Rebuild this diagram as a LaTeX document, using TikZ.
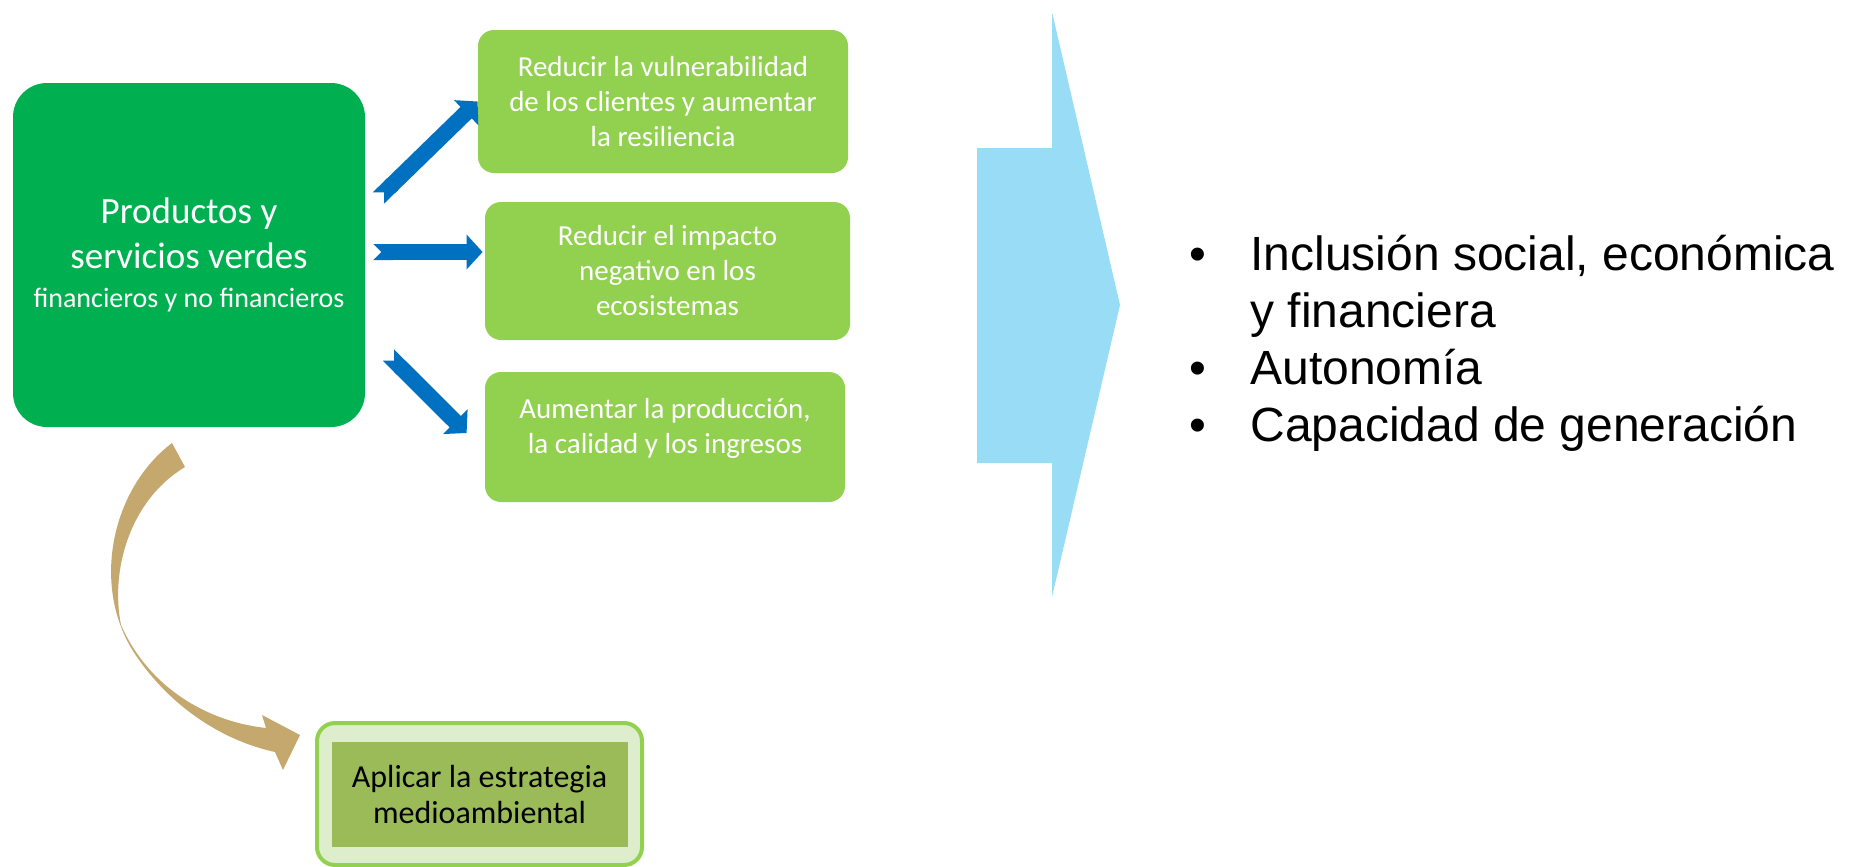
\documentclass[tikz,border=0pt]{standalone}
\usepackage{fontspec}
\setmainfont{Carlito}
\newfontfamily\arialfont{Liberation Sans}
\usepackage{tikz}
\usetikzlibrary{arrows.meta,positioning}

\definecolor{leafgreen}{RGB}{0,176,80}
\definecolor{limegreen}{RGB}{146,208,80}
\definecolor{olivegreen}{RGB}{155,187,89}
\definecolor{palegreen}{RGB}{222,237,203}
\definecolor{flowblue}{RGB}{0,112,192}
\definecolor{skyblue}{RGB}{152,220,245}
\definecolor{sand}{RGB}{196,168,110}

\begin{document}
\begin{tikzpicture}[x=0.5pt,y=-0.5pt]
	\tikzstyle{mainbox}=[fill=leafgreen, rounded corners=17pt, text=white, align=center, minimum width=176pt, minimum height=172pt, inner sep=0pt, font=\fontsize{18.5}{22.5}\selectfont]
	\tikzstyle{goalbox}=[fill=limegreen, rounded corners=8pt, text=white, align=center, inner sep=0pt, font=\fontsize{14.5}{17.5}\selectfont]
	\tikzstyle{flow}=[color=flowblue, line width=8pt, {Triangle Cap[reversed]}-{Triangle[width=17pt,length=8pt]}]
	\useasboundingbox (0,0) rectangle (1852,867);
	
	\node[mainbox] (main) at (189,255) {Productos y\\servicios verdes\\[-3pt]\fontsize{14}{17}\selectfont financieros y no financieros};
	
	\node[goalbox, minimum width=185pt, minimum height=71.5pt] (clients) at (663,101.5) {Reducir la vulnerabilidad\\de los clientes y aumentar\\la resiliencia};
	\node[goalbox, minimum width=182.5pt, minimum height=69pt] (impact) at (667.5,271) {Reducir el impacto\\negativo en los\\ecosistemas};
	\node[goalbox, minimum width=180pt, minimum height=65pt] (income) at (665,437) {Aumentar la producción,\\la calidad y los ingresos\\[-6pt]~};
	
	\path[flow]
	([shift={(13,-57)}]main.east) edge (clients.west)
	([shift={(8,-3)}]main.east) edge ([shift={(-2,-19)}]impact.west)
	([shift={(23,100)}]main.east) edge ([shift={(-18,-4)}]income.west)
	;
	
	% curved arrow down to the strategy box
	\fill[sand] (172,443) .. controls (110,490) and (90,590) .. (137,657) .. controls (170,705) and (220,740) .. (275,752) -- (283,770) -- (300,735) -- (262,715) -- (266,728) .. controls (210,722) and (150,690) .. (121,625) .. controls (110,570) and (130,500) .. (185,467) -- cycle;
	
	\node[draw=limegreen, line width=2pt, fill=palegreen, rounded corners=9pt, minimum width=162.5pt, minimum height=71pt] (strategy) at (479.5,794) {};
	\node[fill=olivegreen, align=center, minimum width=148pt, minimum height=52.5pt, inner sep=0pt, font=\fontsize{16}{18}\selectfont] (strategytext) at (strategy) {Aplicar la estrategia\\medioambiental};
	
	% big arrow
	\fill[skyblue] (977,148) -- (1052,148) -- (1052,12) -- (1120,305) -- (1052,597) -- (1052,463) -- (977,463) -- cycle;
	
	\node[anchor=base west, inner sep=0pt, font=\arialfont\fontsize{24}{28.5}\selectfont] (results) at (1189,270) {\begin{tabular}[t]{@{}p{30.5pt}@{}l@{}}
	•&Inclusión social, económica\\
	 &y financiera\\
	•&Autonomía\\
	•&Capacidad de generación
	\end{tabular}};
\end{tikzpicture}
\end{document}
